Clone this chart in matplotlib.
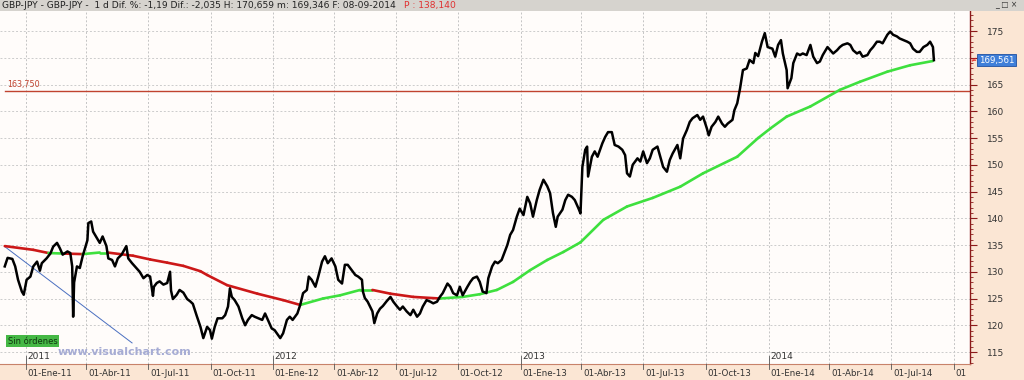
import numpy as np
import matplotlib
matplotlib.use("Agg")
import matplotlib.pyplot as plt
from matplotlib.patches import Rectangle
from matplotlib.transforms import blended_transform_factory

# ---------------- data (bar = trading-day index since 2010-11-25) ----------------
origin = "2010-11-25"
bars = [5, 8, 13, 16, 19, 23, 25, 28, 32, 35, 39, 42, 44, 49, 53, 56, 60, 63, 66, 71, 74, 76, 77, 78,
        81, 84, 87, 92, 93, 96, 98, 102, 105, 108, 112, 114, 118, 121, 124, 128, 133, 135, 139, 142,
        147, 151, 155, 158, 161, 162, 165, 168, 172, 176, 179, 180, 182, 186, 189, 193, 197, 200, 203,
        207, 211, 214, 218, 221, 223, 226, 229, 234, 237, 240, 242, 244, 247, 251, 255, 258, 261, 265,
        268, 272, 276, 279, 282, 286, 289, 295, 298, 302, 305, 308, 313, 316, 319, 323, 325, 328, 332,
        335, 339, 342, 345, 349, 353, 356, 360, 363, 366, 371, 374, 377, 381, 382, 384, 387, 392, 394,
        397, 400, 403, 407, 411, 414, 418, 421, 424, 428, 432, 435, 439, 442, 445, 449, 453, 456, 460,
        463, 466, 471, 474, 477, 481, 484, 487, 492, 495, 498, 502, 505, 508, 512, 514, 518, 521, 524,
        528, 532, 534, 537, 540, 544, 547, 551, 555, 558, 561, 565, 568, 572, 576, 579, 582, 585, 587,
        592, 595, 598, 602, 605, 609, 611, 613, 616, 618, 619, 623, 626, 629, 634, 637, 640, 644, 647,
        651, 655, 658, 660, 663, 666, 671, 674, 677, 681, 684, 687, 692, 695, 698, 702, 705, 708, 713,
        716, 719, 723, 726, 729, 734, 737, 740, 744, 746, 749, 753, 756, 760, 763, 766, 771, 773, 776,
        779, 782, 786, 789, 793, 795, 798, 802, 805, 808, 813, 816, 819, 822, 824, 828, 829, 833, 835,
        839, 842, 845, 849, 853, 856, 860, 863, 866, 871, 874, 877, 881, 884, 887, 892, 895, 898, 902,
        905, 908, 913, 916, 919, 923, 926, 929, 934, 937, 940, 944, 947, 951, 955, 958, 961, 965, 968,
        972, 976, 979, 982, 983]
close = [131.0, 132.6, 132.4, 131.0, 128.5, 126.3, 125.7, 128.5, 129.1, 131.0, 131.9, 130.2, 131.6,
         132.5, 133.4, 134.7, 135.4, 134.4, 133.2, 133.8, 133.5, 131.0, 121.6, 128.0, 131.0, 130.7,
         132.9, 135.9, 139.1, 139.4, 137.5, 136.3, 135.4, 136.6, 134.8, 132.5, 132.2, 131.0, 132.5,
         133.2, 134.8, 132.5, 131.6, 131.0, 130.0, 128.8, 129.4, 129.1, 125.5, 127.2, 127.9, 128.2,
         127.6, 127.9, 130.0, 126.5, 124.9, 125.7, 126.6, 126.1, 124.9, 124.5, 124.0, 121.8, 119.7,
         117.6, 119.7, 119.1, 117.5, 119.7, 121.3, 121.3, 121.9, 123.5, 126.9, 125.3, 124.7, 123.5,
         121.3, 120.0, 121.0, 121.9, 121.6, 121.3, 121.0, 122.2, 121.0, 119.4, 119.1, 117.6, 118.5,
         121.0, 121.6, 121.0, 122.2, 123.8, 126.0, 126.6, 129.1, 128.5, 127.2, 129.1, 131.9, 132.9,
         131.6, 132.5, 131.0, 128.5, 127.8, 131.3, 131.3, 130.1, 129.4, 129.1, 128.5, 126.3, 125.1,
         124.4, 122.6, 120.4, 122.2, 123.1, 123.6, 124.5, 125.3, 124.4, 123.5, 122.9, 123.5, 122.6,
         121.9, 122.9, 121.6, 122.2, 123.5, 124.7, 124.4, 124.1, 124.4, 125.3, 126.0, 127.8, 127.2,
         126.0, 125.6, 127.2, 125.6, 127.2, 128.1, 128.8, 129.1, 128.1, 126.3, 126.0, 128.8, 131.0,
         131.9, 131.6, 132.2, 134.1, 135.0, 136.9, 137.8, 140.3, 141.8, 140.6, 144.0, 142.8, 140.3,
         143.4, 145.3, 147.2, 146.0, 144.7, 141.0, 138.4, 140.3, 141.6, 143.4, 144.4, 144.0, 143.4,
         141.8, 140.9, 149.6, 152.8, 153.4, 147.8, 151.5, 152.5, 151.5, 154.0, 155.2, 156.1, 156.1,
         153.7, 153.4, 152.8, 151.8, 148.4, 147.8, 150.0, 151.2, 150.6, 152.5, 150.3, 151.2, 152.8,
         153.4, 151.5, 149.6, 148.7, 150.9, 152.1, 153.7, 151.2, 154.9, 156.5, 158.0, 158.7, 159.3,
         158.4, 159.0, 156.8, 155.5, 157.1, 158.0, 159.0, 157.7, 157.1, 157.7, 158.4, 160.2, 161.5,
         164.3, 167.7, 168.0, 169.6, 169.0, 170.9, 170.3, 173.0, 174.6, 172.0, 171.7, 170.2, 172.4,
         173.3, 170.8, 167.7, 164.3, 166.2, 169.0, 170.8, 170.5, 170.8, 170.5, 172.4, 170.2, 169.0,
         169.3, 170.5, 172.0, 171.4, 170.8, 171.4, 172.0, 172.4, 172.7, 172.4, 171.4, 170.8, 171.1,
         170.2, 170.5, 171.4, 172.0, 173.0, 173.0, 172.7, 174.3, 174.9, 174.3, 174.0, 173.6, 173.3,
         173.0, 172.7, 171.7, 171.1, 171.1, 172.0, 172.4, 173.0, 172.0, 169.56]

# moving average readings and the colour of the segment that starts at each point
ma_bars = [5, 35, 51, 68, 87, 105, 113, 140, 158, 176, 193, 211, 218, 239, 271, 298, 316, 340, 358,
           379, 392, 411, 435, 463, 487, 505, 523, 540, 558, 576, 593, 611, 635, 660, 687, 716, 740,
           776, 798, 811, 828, 853, 884, 905, 934, 958, 982]
ma_vals = [134.8, 134.1, 133.5, 133.4, 133.3, 133.6, 133.6, 133.0, 132.3, 131.7, 131.1, 130.1, 129.4,
           127.5, 125.9, 124.7, 123.8, 125.0, 125.6, 126.6, 126.6, 125.9, 125.3, 125.0, 125.3, 125.8,
           126.6, 128.1, 130.3, 132.2, 133.7, 135.5, 139.7, 142.2, 143.8, 145.9, 148.4, 151.5, 155.0,
           156.8, 159.0, 160.9, 164.0, 165.5, 167.4, 168.6, 169.4]
ma_up = [0, 0, 1, 0, 1, 1, 0, 0, 0, 0, 0, 0, 0, 0, 0, 0, 1, 1, 1, 1, 0, 0, 0, 1, 1, 1, 1, 1, 1, 1,
         1, 1, 1, 1, 1, 1, 1, 1, 1, 1, 1, 1, 1, 1, 1, 1, 1]

trend_bars = [5, 139]
trend_vals = [134.7, 116.7]
support_level = 163.75
last_price = 169.561

y_ticks = [115, 120, 125, 130, 135, 140, 145, 150, 155, 160, 165, 170, 175]
y_tick_labels = ["115", "120", "125", "130", "135", "140", "145", "150", "155", "160", "165", "", "175"]

quarter_dates = ["2011-01-01", "2011-04-01", "2011-07-01", "2011-10-01", "2012-01-01", "2012-04-01",
                 "2012-07-01", "2012-10-01", "2013-01-01", "2013-04-01", "2013-07-01", "2013-10-01",
                 "2014-01-01", "2014-04-01", "2014-07-01", "2014-10-01"]
quarter_labels = ["01-Ene-11", "01-Abr-11", "01-Jul-11", "01-Oct-11", "01-Ene-12", "01-Abr-12",
                  "01-Jul-12", "01-Oct-12", "01-Ene-13", "01-Abr-13", "01-Jul-13", "01-Oct-13",
                  "01-Ene-14", "01-Abr-14", "01-Jul-14", "01"]
years = ["2011", "2012", "2013", "2014"]
year_dates = ["2011-01-01", "2012-01-01", "2013-01-01", "2014-01-01"]

header = "GBP-JPY - GBP-JPY -  1 d Dif. %: -1,19 Dif.: -2,035 H: 170,659 m: 169,346 F: 08-09-2014 "
header_red = "P : 138,140"

# ---------------- figure ----------------
W, H = 1024, 380
fig = plt.figure(figsize=(W / 100, H / 100), dpi=100)
fig.patch.set_facecolor("#fbe6d4")
plt.rcParams["font.family"] = ["DejaVu Sans"]

# title bar
fig.patches.append(Rectangle((0, 1 - 11 / H), 1, 11 / H, transform=fig.transFigure,
                             facecolor="#d6d3ce", edgecolor="none", zorder=0))
fig.text(2 / W, 1 - 5.5 / H, header, fontsize=6.6, va="center", ha="left", color="#222222")
fig.text(404 / W, 1 - 5.5 / H, header_red, fontsize=6.6, va="center", ha="left", color="#e03030")
fig.text(1006 / W, 1 - 5 / H, "_ \u25a1 \u00d7", fontsize=5.5, va="center", ha="center", color="#333333")

ax = fig.add_axes([0, 16 / H, 970 / W, (364 - 11) / H])
ax.set_facecolor("#fffcfa")

x_lo, x_hi = 0, 1021
y_lo, y_hi = 112.76, 178.74
ax.set_xlim(x_lo, x_hi)
ax.set_ylim(y_lo, y_hi)

# grid
qpos = [int(np.busday_count(origin, d)) for d in quarter_dates]
for q in qpos:
    ax.axvline(q, color="#c4c4c4", lw=0.7, ls=(0, (2, 2)), zorder=1)
for lv in y_ticks:
    ax.axhline(lv, color="#cccccc", lw=0.7, ls=(0, (2, 2)), zorder=1)

# support line
ax.axhline(support_level, xmin=5 / 970, color="#c0432f", lw=1.0, zorder=2)
ax.text(8, support_level + 0.35, "163,750", fontsize=5.8, color="#c0432f", va="bottom", ha="left")

# trend line
ax.plot(trend_bars, trend_vals, color="#4a6fc0", lw=0.7, zorder=2)

# moving average coloured by trend
for i in range(len(ma_bars) - 1):
    ax.plot(ma_bars[i:i + 2], ma_vals[i:i + 2], color="#3ee03e" if ma_up[i] else "#cc1818",
            lw=1.9, solid_capstyle="round", zorder=3)

# price
ax.plot(bars, close, color="black", lw=1.8, zorder=4)

# axes styling
for s in ["left", "top", "bottom"]:
    ax.spines[s].set_visible(False)
ax.spines["right"].set_color("#8b1a1a")
ax.spines["right"].set_linewidth(1.0)
ax.yaxis.tick_right()
ax.set_yticks(y_ticks, y_tick_labels)
ax.set_yticks(np.arange(113, 179, 1), minor=True)
ax.tick_params(axis="y", which="major", length=5, width=0.8, color="#8b1a1a", pad=7,
               labelsize=6.5, labelcolor="#333333")
ax.tick_params(axis="y", which="minor", length=2.5, width=0.6, color="#8b1a1a")
ax.set_xticks([])

# bottom band border
fig.add_artist(plt.Line2D([0, 970 / W], [16 / H, 16 / H], color="#c8826a", lw=0.8))

# x labels
trans = blended_transform_factory(ax.transData, fig.transFigure)
for q, lab in zip(qpos, quarter_labels):
    fig.add_artist(plt.Line2D([q, q], [16 / H, 11 / H], transform=trans, color="#555555", lw=0.6))
    ax.text(q + 2, 7 / H, lab, transform=trans, fontsize=6.3, color="#333333", va="center", ha="left",
            clip_on=False)
for yl, yd in zip(years, year_dates):
    p = int(np.busday_count(origin, yd))
    ax.plot([p, p], [114.2, y_lo], color="#555555", lw=0.6, clip_on=False, zorder=5)
    ax.text(p + 1.5, 113.4, yl, fontsize=6.5, color="#333333", va="bottom", ha="left")

# last price marker
yfrac = (last_price - y_lo) / (y_hi - y_lo)
ax.text(1.009, yfrac, "169,561", transform=ax.transAxes,
        fontsize=6.2, color="white", va="center", ha="left", clip_on=False,
        bbox=dict(boxstyle="square,pad=0.15", facecolor="#3f7fd9", edgecolor="#2050a0", lw=0.6))
ax.text(1.0005, yfrac, "\u2260", transform=ax.transAxes,
        fontsize=5, color="#e02020", va="center", ha="left", clip_on=False)

# status box and watermark
fig.text(8 / W, 1 - 341 / H, "Sin \u00f3rdenes", fontsize=6, color="#103510", va="center", ha="left",
         bbox=dict(boxstyle="square,pad=0.2", facecolor="#45b845", edgecolor="none"))
fig.text(58 / W, 1 - 352 / H, "www.visualchart.com", fontsize=8, fontweight="bold",
         color="#a6acd4", va="center", ha="left")

fig.savefig("out.png", dpi=100, facecolor=fig.get_facecolor())
